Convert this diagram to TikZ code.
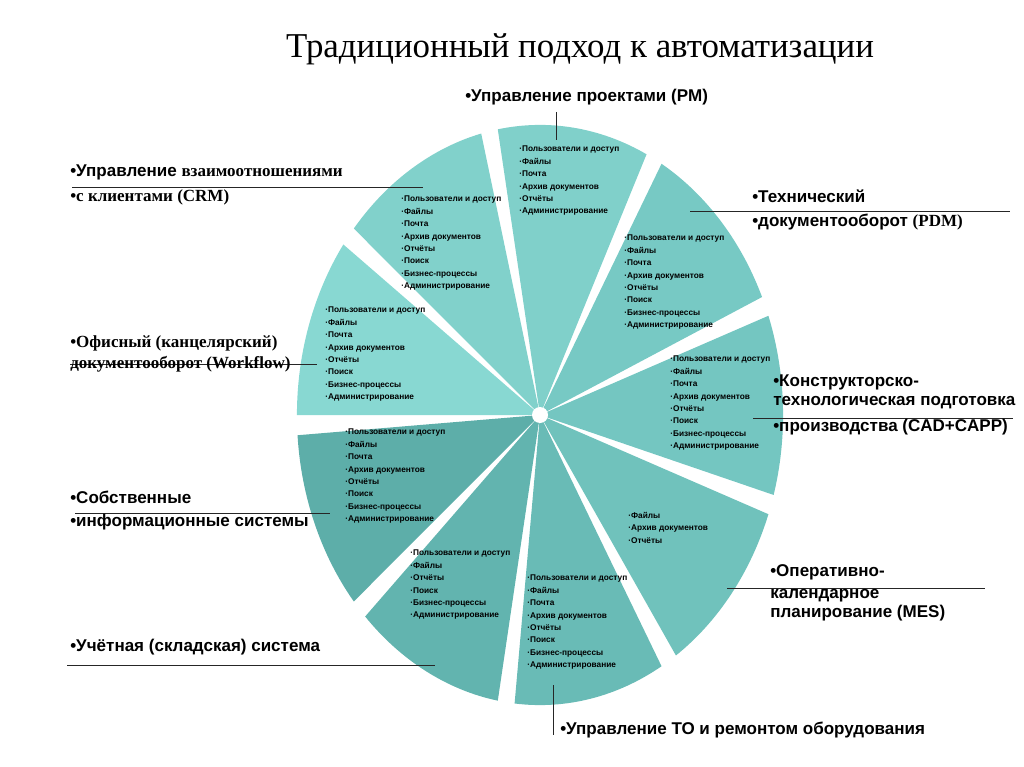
\documentclass[tikz,border=0pt]{standalone}
\usepackage{fontspec}
\setmainfont{Liberation Serif}
\setsansfont{Liberation Sans}
\usetikzlibrary{positioning}
\definecolor{tealA}{RGB}{128,208,202}
\definecolor{tealB}{RGB}{119,201,196}
\definecolor{tealC}{RGB}{116,198,193}
\definecolor{tealD}{RGB}{112,194,188}
\definecolor{tealE}{RGB}{105,187,182}
\definecolor{tealF}{RGB}{98,180,175}
\definecolor{tealG}{RGB}{93,174,169}
\definecolor{tealH}{RGB}{136,216,210}
\definecolor{tealI}{RGB}{129,209,203}
\newcommand{\autoslice}[3]{%
  \fill[#3] (ctr) -- ++(#1:6.075cm and 7.25cm)
    arc[start angle=#1,end angle=#2,x radius=6.075cm,y radius=7.25cm] -- cycle;
}
\newcommand{\leader}[3]{%
  \coordinate (#1-a) at (#2);
  \coordinate (#1-b) at (#3);
  \draw[leadline] (#1-a) -- (#1-b);
}
\newcommand{\rmbit}[1]{{\rmfamily\fontsize{12.1}{14}\selectfont #1}}
\newcommand{\fulllist}{·Пользователи и доступ\\·Файлы\\·Почта\\·Архив документов\\·Отчёты\\·Поиск\\·Бизнес-процессы\\·Администрирование}

\begin{document}
\begin{tikzpicture}[x=.025cm,y=.025cm,
    listtext/.style={font=\sffamily\bfseries\fontsize{5.9}{8.8}\selectfont,
      align=left,inner sep=0pt,anchor=north west},
    sidelabel/.style={font=\sffamily\bfseries\fontsize{12.1}{14}\selectfont,
      anchor=west,inner sep=0pt},
    serlabel/.style={font=\rmfamily\bfseries\fontsize{12.1}{14}\selectfont,
      anchor=west,inner sep=0pt},
    leadline/.style={draw=black!85,line width=.6pt}]
    \useasboundingbox (0,0) rectangle (1024,-767);
    \coordinate (ctr) at (540,-415);
    \autoslice{64}{100}{tealA}
    \autoslice{24}{60}{tealB}
    \autoslice{-16}{20}{tealC}
    \autoslice{-56}{-20}{tealD}
    \autoslice{-96}{-60}{tealE}
    \autoslice{-136}{-100}{tealF}
    \autoslice{-176}{-140}{tealG}
    \autoslice{144}{180}{tealH}
    \autoslice{104}{140}{tealI}
    \fill[white] (ctr) circle[radius=8];
    \node[font=\rmfamily\fontsize{24.8}{29}\selectfont] (title) at (580,-49)
      {Традиционный подход к автоматизации};
    \node[listtext] (lst-pm) at (519,-146)
      {·Пользователи и доступ\\·Файлы\\·Почта\\·Архив документов\\·Отчёты\\·Администрирование};
    \node[listtext] (lst-crm) at (401,-196) {\fulllist};
    \node[listtext] (lst-pdm) at (624,-235) {\fulllist};
    \node[listtext] (lst-wf) at (325,-307) {\fulllist};
    \node[listtext] (lst-cad) at (670,-356) {\fulllist};
    \node[listtext] (lst-sob) at (345,-429) {\fulllist};
    \node[listtext] (lst-mes) at (628,-512) {·Файлы\\·Архив документов\\·Отчёты};
    \node[listtext] (lst-uch) at (410,-550)
      {·Пользователи и доступ\\·Файлы\\·Отчёты\\·Поиск\\·Бизнес-процессы\\·Администрирование};
    \node[listtext] (lst-to) at (527,-575) {\fulllist};
    \leader{pm}{556,-112}{556,-140}
    \leader{crm}{72,-187}{423,-187}
    \leader{pdm}{690,-211}{1010,-211}
    \leader{wf}{70,-364}{317,-364}
    \leader{cad}{753,-418}{1013,-418}
    \leader{sob}{75,-513}{330,-513}
    \leader{uch}{67,-665}{435,-665}
    \leader{mes}{727,-588}{985,-588}
    \leader{to}{553,-685}{553,-735}
    \node[sidelabel] (lbl-pm) at (465,-97) {•Управление проектами (PM)};
    \node[sidelabel] (lbl-crm1) at (70,-172) {•Управление \rmbit{взаимоотношениями}};
    \node[serlabel] (lbl-crm2) at (70,-197) {•с клиентами (CRM)};
    \node[sidelabel] (lbl-pdm1) at (752,-196) {•Технический};
    \node[sidelabel] (lbl-pdm2) at (752,-222) {•документооборот \rmbit{(PDM)}};
    \node[serlabel] (lbl-wf1) at (70,-343) {•Офисный (канцелярский)};
    \node[serlabel] (lbl-wf2) at (70,-364) {документооборот (Workflow)};
    \node[sidelabel] (lbl-cad1) at (773,-382) {•Конструкторско-};
    \node[sidelabel] (lbl-cad2) at (773,-403) {технологическая подготовка};
    \node[sidelabel] (lbl-cad3) at (773,-427) {•производства (CAD+CAPP)};
    \node[sidelabel] (lbl-sob1) at (70,-497) {•Собственные};
    \node[sidelabel] (lbl-sob2) at (70,-522) {•информационные системы};
    \node[sidelabel] (lbl-uch) at (70,-647) {•Учётная (складская) система};
    \node[sidelabel] (lbl-mes1) at (770,-572) {•Оперативно-};
    \node[sidelabel] (lbl-mes2) at (770,-596) {календарное};
    \node[sidelabel] (lbl-mes3) at (770,-613) {планирование (MES)};
    \node[sidelabel] (lbl-to) at (560,-730) {•Управление ТО и ремонтом оборудования};
\end{tikzpicture}
\end{document}
